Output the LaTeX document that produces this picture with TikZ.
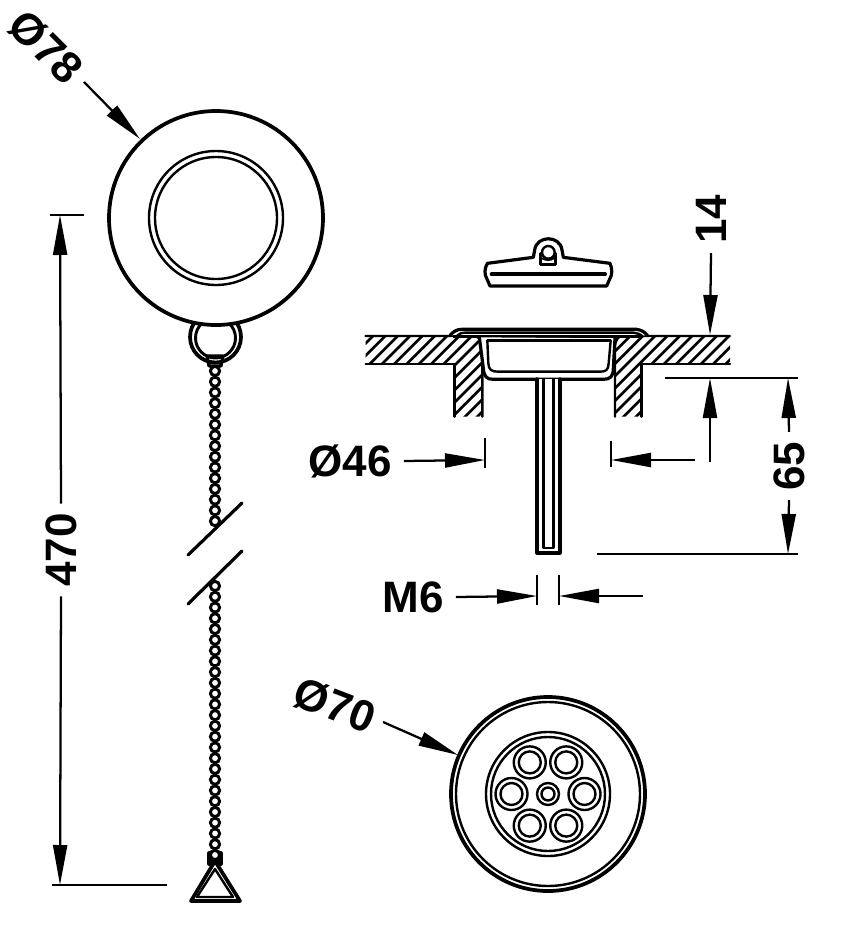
\documentclass[tikz,border=0pt]{standalone}
\usepackage{fontspec}
\setmainfont{Liberation Sans}
\usetikzlibrary{arrows.meta}
\tikzset{
  thickline/.style={line width=2.4pt,line cap=round,line join=round},
  medline/.style={line width=1.8pt,line cap=round,line join=round},
  thinline/.style={line width=1.3pt},
  dimline/.style={line width=1.7pt},
  dimarrow/.style={dimline,-{Triangle[length=30pt,width=10.5pt]}},
  dimtext/.style={font=\fontsize{33}{33}\bfseries\selectfont,inner sep=4pt,text=black},
  bead/.style={draw,fill=white,line width=2.2pt},
  hatch/.style={line width=2pt},
}
\begin{document}
\begin{tikzpicture}[x=0.75pt,y=-0.75pt]
\useasboundingbox (0,0) rectangle (861,931);
\fill[white] (0,0) rectangle (861,931);

% ---------- chain and plate, left
\foreach \i in {0,...,14} \draw[bead] (215,{371+\i*10.72}) circle[radius=4.6];
\foreach \i in {0,...,25} \draw[bead] (215,{586+\i*10.76}) circle[radius=4.6];
\draw[thickline,fill=white] (207,356) -- (209,366) -- (221,366) -- (223,356) -- cycle;
\draw[line width=2.8pt] (215.5,337) circle[radius=25.5];
\draw[line width=2.2pt] (215.5,338) circle[radius=20];
\draw[line width=2.8pt,fill=white] (216,218) circle[radius=107];
\draw[medline] (216,218) circle[radius=67];
\draw[medline] (216,218) circle[radius=61];
% break marks
\draw[thickline] (188,555) -- (242,503);
\draw[thickline] (188,604) -- (242,551);
% triangle
\draw[thickline,fill=black] (209,853) -- (221,853) -- (221,864) -- (209,864) -- cycle;
\draw[line width=2.8pt,line join=round,fill=white] (215,861) -- (240,901) -- (191,901) -- cycle;
\draw[medline] (215,869) -- (233,897) -- (197,897) -- cycle;
\draw[bead] (215,855) circle[radius=4.6];

% ---------- plug
\begin{scope}[shift={(350,220)},x=0.25pt,y=-0.25pt]
\draw[thickline] (420,198) -- (770,198) -- (780,175) .. controls (787,165) and (787,145) .. (780,130)
  -- (640,112) -- (636,90) .. controls (630,45) and (560,45) .. (554,90) -- (550,112) -- (412,130)
  .. controls (403,145) and (403,165) .. (410,175) -- cycle;
\draw[line width=3pt,line cap=round] (425,163) -- (765,163);
\draw[medline] (595,97) circle[radius=19];
\draw[medline] (571,100) -- (571,133) -- (616,133) -- (616,100);
\draw[thinline] (575,115) .. controls (590,122) and (600,122) .. (612,115);

% ---------- counter top hatching
\begin{scope}
\clip (47,348) -- (375,348) .. controls (388,352) and (395,362) .. (395,380) -- (395,590) -- (313,590) -- (313,432) -- (47,432) -- cycle;
\foreach \k in {-10,...,20} \draw[hatch] ({150+\k*37},600) -- ++(300,-300);
\end{scope}
\begin{scope}
\clip (795,590) -- (795,375) .. controls (797,360) and (805,350) .. (815,348) -- (1140,348) -- (1140,432) -- (875,432) -- (875,590) -- cycle;
\foreach \k in {-6,...,20} \draw[hatch] ({700+\k*37},600) -- ++(300,-300);
\end{scope}
\draw[medline] (47,348) -- (375,348) .. controls (388,352) and (395,362) .. (397,380) -- (397,590);
\draw[medline] (47,432) -- (313,432) -- (313,590);
\draw[medline] (1140,348) -- (815,348) .. controls (805,350) and (797,360) .. (795,375) -- (795,590);
\draw[medline] (1140,432) -- (875,432) -- (875,590);

% ---------- waste flange and cup
\draw[thickline,fill=white] (300,346) .. controls (310,335) and (320,328) .. (335,328) -- (860,328) .. controls (875,330) and (885,337) .. (892,346);
\draw[medline] (322,346) .. controls (330,340) and (335,338) .. (345,338) -- (850,338) .. controls (860,339) and (868,342) .. (875,346);
\draw[line width=2.4pt] (310,350) -- (880,350);
\draw[thickline,fill=white] (388,352) -- (400,445) .. controls (402,470) and (410,478) .. (430,478) -- (760,478) .. controls (780,478) and (790,470) .. (790,445) -- (795,355);
\draw[medline] (412,362) -- (782,362);
\draw[medline] (412,362) -- (415,430) .. controls (416,450) and (425,455) .. (445,455) -- (750,455) .. controls (768,455) and (775,450) .. (776,430) -- (782,362);
\end{scope}

% ---------- stem
\draw[thickline,fill=white] (537,379) -- (537,553) -- (560,553) -- (560,379);
\draw[medline] (543.5,379) -- (543.5,548) -- (553.5,548) -- (553.5,379);

% ---------- drain top view
\draw[line width=2.8pt] (548,794) circle[radius=97];
\draw[medline] (548,794) circle[radius=92];
\draw[medline] (548,794) circle[radius=62];
\draw[medline] (548,794) circle[radius=57];
\foreach \a in {0,60,120,180,240,300} {
  \draw[medline] ({548+36.5*cos(\a)},{794+36.5*sin(\a)}) circle[radius=16];
  \draw[medline] ({548+36.5*cos(\a)},{794+36.5*sin(\a)}) circle[radius=11];
}
\draw[medline] (548,794) circle[radius=11];
\draw[medline] (548,794) circle[radius=6.5];

% ---------- dimension anchors
\coordinate (a470t) at (60,215);
\coordinate (a470b) at (60,885);
\coordinate (e78) at (84,82);
\coordinate (a78) at (140,139);
\coordinate (a14) at (710,335);
\coordinate (a14b) at (710,378);
\coordinate (e14b) at (710,462);
\coordinate (a65t) at (788,378);
\coordinate (a65b) at (788,554);
\coordinate (a46l) at (485,460);
\coordinate (a46r) at (611,460);
\coordinate (e46r) at (695,460);
\coordinate (aM6l) at (537,596);
\coordinate (aM6r) at (559,596);
\coordinate (eM6r) at (643,596);
\coordinate (a70) at (458,755);

% ---------- dimension texts
\node[dimtext,rotate=90,inner sep=7pt] (t470) at (61,550) {470};
\node[dimtext,rotate=-45,inner sep=2pt] (t78) at (46,47) {Ø78};
\node[dimtext,rotate=90,inner sep=7pt] (t14) at (711,219) {14};
\node[dimtext,rotate=90,inner sep=7pt] (t65) at (789,466) {65};
\node[dimtext,inner sep=9pt] (t46) at (350,461) {Ø46};
\node[dimtext,inner sep=9pt] (tM6) at (413,597) {M6};
\node[dimtext,rotate=-21,inner sep=2pt] (t70) at (335,705) {Ø70};

% ---------- dimension lines
\draw[dimarrow] (t470.east) -- (a470t);
\draw[dimarrow] (t470.west) -- (a470b);
\draw[dimline] (50,215) -- (84,215);
\draw[dimline] (52,885) -- (167,885);
\draw[dimarrow] (e78) -- (a78);
\draw[dimarrow] (t14.west) -- (a14);
\draw[dimarrow] (e14b) -- (a14b);
\draw[dimarrow] (t65.east) -- (a65t);
\draw[dimarrow] (t65.west) -- (a65b);
\draw[dimline] (665,378) -- (798,378);
\draw[dimline] (597,554) -- (798,554);
\draw[dimarrow] (t46.east) -- (a46l);
\draw[dimarrow] (e46r) -- (a46r);
\draw[dimline] (485,438) -- (485,468);
\draw[dimline] (611,441) -- (611,467);
\draw[dimarrow] (tM6.east) -- (aM6l);
\draw[dimarrow] (eM6r) -- (aM6r);
\draw[dimline] (537,575) -- (537,605);
\draw[dimline] (559,575) -- (559,605);
\draw[dimarrow] (383,722) -- (a70);
\end{tikzpicture}
\end{document}
